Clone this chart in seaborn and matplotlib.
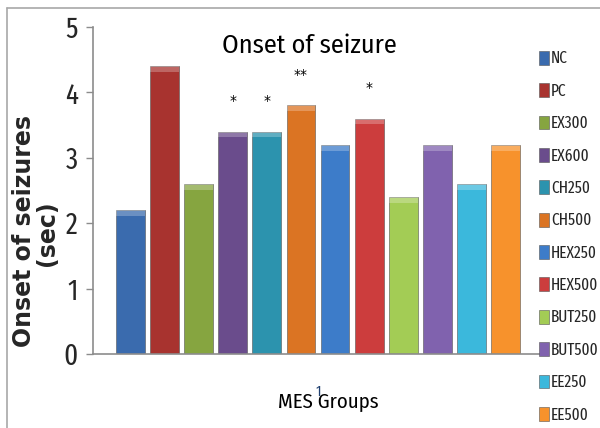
import matplotlib
matplotlib.use("Agg")
import matplotlib.pyplot as plt
from matplotlib.patches import Rectangle
from matplotlib.lines import Line2D
import seaborn as sns
import pandas as pd

groups = ["NC", "PC", "EX300", "EX600", "CH250", "CH500",
          "HEX250", "HEX500", "BUT250", "BUT500", "EE250", "EE500"]
onset = [2.2, 4.4, 2.6, 3.4, 3.4, 3.8, 3.2, 3.6, 2.4, 3.2, 2.6, 3.2]
marks = ["", "", "", "*", "*", "**", "", "*", "", "", "", ""]
colors = ["#3A6BAE", "#A8332F", "#86A540", "#6A4C8C", "#2C93AE", "#DB7423",
          "#3D7CC9", "#CC3D3D", "#A3CC55", "#8062AE", "#3BB8DC", "#F7922C"]
yticks = [0, 1, 2, 3, 4, 5]

df = pd.DataFrame({"set": ["1"] * len(groups), "group": groups, "onset": onset})

sns.set_style("white")
narrow = ["Fira Sans Condensed", "DejaVu Sans"]
xnarrow = ["Fira Sans Extra Condensed", "DejaVu Sans"]
plt.rcParams["font.family"] = narrow

fig = plt.figure(figsize=(6.0, 4.28), dpi=100)
ax = fig.add_axes([0.155, 0.173, 0.75, 0.764])

sns.barplot(data=df, x="set", y="onset", hue="group", hue_order=groups,
            palette=colors, width=0.91, gap=0.16, ax=ax, legend=False,
            edgecolor="#555555", linewidth=0.4, saturation=1)

bars = ax.patches[:len(groups)]

# light bevel strip on top of each bar
for p in bars:
    x, w, h = p.get_x(), p.get_width(), p.get_height()
    ax.add_patch(Rectangle((x, h - 0.09), w, 0.09, facecolor="white",
                           alpha=0.25, edgecolor="none", zorder=3))

# significance marks
for p, m in zip(bars, marks):
    if m:
        ax.text(p.get_x() + p.get_width() / 2, p.get_height() + 0.47, m,
                ha="center", va="center", fontsize=10, color="black",
                family="DejaVu Sans")

ax.set_ylim(0, 5)
ax.set_xlim(-0.5, 0.5)
ax.set_yticks(yticks)
ax.set_yticklabels([str(t) for t in yticks], fontsize=21, family=xnarrow)
ax.tick_params(axis="y", which="major", length=5, width=1, color="#8C8C8C",
               direction="out", pad=6, left=True)
ax.tick_params(axis="x", length=0, labelsize=10, pad=22, labelcolor="#1F3F6F")
ax.set_xlabel("")
ax.set_ylabel("")
for s in ["top", "right"]:
    ax.spines[s].set_visible(False)
for s in ["left", "bottom"]:
    ax.spines[s].set_color("#8C8C8C")
    ax.spines[s].set_linewidth(1.2)

fig.text(0.515, 0.893, "Onset of seizure", ha="center", va="center",
         fontsize=19, color="black")
fig.text(0.547, 0.061, "MES Groups", ha="center", va="center",
         fontsize=15, color="black")
fig.text(0.040, 0.46, "Onset of seizures", rotation=90, ha="center",
         va="center", fontsize=17, fontweight="bold", family="DejaVu Sans")
fig.text(0.078, 0.455, "(sec)", rotation=90, ha="center",
         va="center", fontsize=17, fontweight="bold", family="DejaVu Sans")

handles = [Rectangle((0, 0), 1, 1, facecolor=c, edgecolor="#555555",
                     linewidth=0.4) for c in colors]
fig.legend(handles, groups, loc="upper left", bbox_to_anchor=(0.888, 0.897),
           frameon=False, handlelength=0.55, handleheight=0.9,
           handletextpad=0.15, labelspacing=0.98, borderaxespad=0,
           prop={"family": xnarrow, "size": 12})

# outer frame
fig.add_artist(Line2D([0.012, 1.0], [0.981, 0.981], color="#A8A8A8",
                      linewidth=1.2, transform=fig.transFigure))
fig.add_artist(Line2D([0.012, 0.012], [0.0, 0.981], color="#A8A8A8",
                      linewidth=1.2, transform=fig.transFigure))

fig.savefig("out.png", dpi=100)
